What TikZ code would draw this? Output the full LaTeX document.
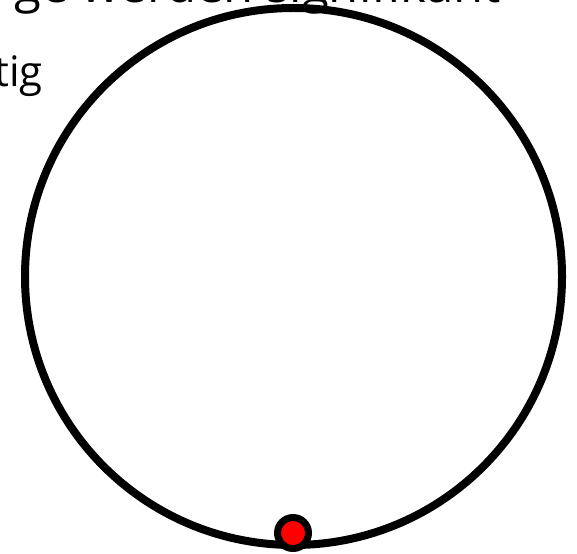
\documentclass[tikz,border=0pt]{standalone}
\usepackage{fontspec}
\setmainfont{Open Sans}
\begin{document}
\begin{tikzpicture}[x=1pt,y=-1pt,
  txt/.style={inner sep=0pt},
  ring/.style={draw=black,line width=8pt},
  marker/.style={circle,draw=black,fill=red,line width=7pt,minimum size=31pt,inner sep=0pt}]
\useasboundingbox (0,0) rectangle (577,553);
\begin{scope}
\clip (0,0) rectangle (577,553);
\node[txt,anchor=base east,font=\fontsize{49}{58}\selectfont] (line1) at (501,3) {ge werden signifikant};
\node[txt,anchor=base east,font=\fontsize{42}{50}\selectfont] (line2) at (43,87) {tig};
\node[circle,ring,minimum size=537pt,inner sep=0pt] (big) at (293.5,276.5) {};
\node[marker] (dot) at (293,533) {};
\end{scope}
\end{tikzpicture}
\end{document}
